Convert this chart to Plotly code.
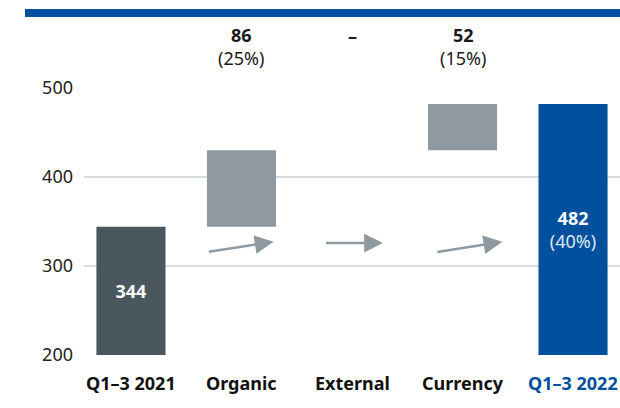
import plotly.graph_objects as go

categories = ["Q1–3 2021", "Organic", "External", "Currency", "Q1–3 2022"]
values = [344, 86, 0, 52, 482]
measures = ["absolute", "relative", "relative", "relative", "total"]
change_labels = ["", "86", "–", "52", ""]
pct_labels = ["", "(25%)", "", "(15%)", "(40%)"]
y_ticks = [200, 300, 400, 500]
Y_FLOOR = 200

DARK = "#4b575e"
GREY = "#8e99a1"
BLUE = "#0050a0"
FONT = "Noto Sans"

# bases & heights for floating bars
bases, heights, colors = [], [], []
running = 0
for v, m in zip(values, measures):
    if m == "absolute":
        bases.append(Y_FLOOR); heights.append(v - Y_FLOOR); running = v; colors.append(DARK)
    elif m == "total":
        bases.append(Y_FLOOR); heights.append(v - Y_FLOOR); colors.append(BLUE)
    else:
        bases.append(running); heights.append(v); running += v; colors.append(GREY)

xs = list(range(len(categories)))
bar_text = []
for v, m, p in zip(values, measures, pct_labels):
    if m == "absolute":
        bar_text.append(f"<b>{v}</b>")
    elif m == "total":
        bar_text.append(f"<b>{v}</b><br><span style='color:#dfe7f2'>{p}</span>")
    else:
        bar_text.append("")

fig = go.Figure()
fig.add_trace(go.Bar(
    x=xs, y=heights, base=bases, width=0.625,
    marker=dict(color=colors, line=dict(width=0)),
    text=bar_text, textposition="inside", insidetextanchor="middle",
    textfont=dict(color="white", size=18, family=FONT),
    hoverinfo="skip", showlegend=False,
))

W, H = 620, 408
L, T, B = 84, 88, 53
PW, PH = W - L, H - T - B
BOTTOM = H - B  # pixel y of plot bottom in figure coords

annotations = []
# top labels
for i, (c, p) in enumerate(zip(change_labels, pct_labels)):
    if measures[i] != "relative":
        continue
    if p:
        annotations.append(dict(x=i, y=(BOTTOM - 46.5) / PH, xref="x", yref="paper",
                                yanchor="middle",
                                text=f"<b>{c}</b><br>{p}", showarrow=False,
                                font=dict(size=18, color="#1a1a1a", family=FONT)))
    else:
        annotations.append(dict(x=i, y=(BOTTOM - 36) / PH, xref="x", yref="paper",
                                yanchor="middle",
                                text=f"<b>{c}</b>", showarrow=False,
                                font=dict(size=18, color="#1a1a1a", family=FONT)))

# arrows under the change columns
arrow_specs = [(1, -0.31, 0.29, 315.7, 327.3), (2, -0.25, 0.28, 325.8, 325.8), (3, -0.24, 0.36, 315.5, 327.3)]
for i, dx0, dx1, y0, y1 in arrow_specs:
    annotations.append(dict(x=i + dx1, y=y1, ax=i + dx0, ay=y0,
                            xref="x", yref="y", axref="x", ayref="y",
                            text="", showarrow=True, arrowhead=2,
                            arrowsize=1.5, arrowwidth=2.5, arrowcolor=GREY,
                            standoff=0, startstandoff=0))

# category labels
for i, c in enumerate(categories):
    annotations.append(dict(x=i, y=-28 / PH, xref="x", yref="paper", yanchor="middle",
                            text=f"<b>{c}</b>", showarrow=False,
                            font=dict(size=18, family=FONT,
                                      color=BLUE if i == len(categories) - 1 else "#111111")))

fig.update_layout(
    width=W, height=H,
    margin=dict(l=L, r=0, t=T, b=B),
    paper_bgcolor="white", plot_bgcolor="white",
    font=dict(family=FONT, size=16, color="#222222"),
    xaxis=dict(range=[-0.425, 4.425], showticklabels=False, showgrid=False,
               zeroline=False, showline=False, fixedrange=True),
    yaxis=dict(range=[Y_FLOOR, 500], tickvals=y_ticks, showgrid=True,
               gridcolor="#d9dde0", gridwidth=1.5, zeroline=False,
               showline=False, ticks="", ticklabelstandoff=10,
               tickfont=dict(size=18, color="#222222", family=FONT)),
    annotations=annotations,
    hovermode=False,
    shapes=[dict(type="rect", xref="paper", yref="paper",
                 x0=(25 - L) / PW, x1=1.0,
                 y0=(BOTTOM - 17) / PH, y1=(BOTTOM - 9) / PH,
                 fillcolor=BLUE, line=dict(width=0), layer="above")],
)

fig.write_html(
    "out.html",
    config={"displayModeBar": False, "staticPlot": True},
    post_script="document.body.style.margin='0';document.body.style.overflow='hidden';"
                "document.documentElement.style.overflow='hidden';",
)
